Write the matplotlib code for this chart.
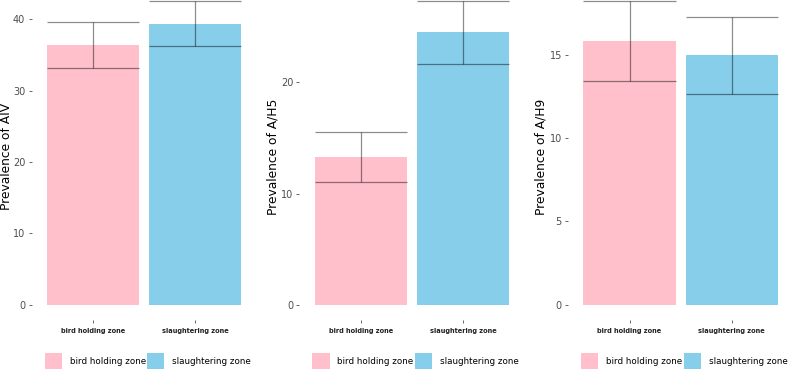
import matplotlib.pyplot as plt
from matplotlib.patches import Patch

# data
zones = ["bird holding zone", "slaughtering zone"]
labels = ["Prevalence of AIV", "Prevalence of A/H5", "Prevalence of A/H9"]
aiv = [36.4, 39.35]
aiv_err = [3.2, 3.15]
h5 = [13.3, 24.5]
h5_err = [2.25, 2.8]
h9 = [15.8, 14.95]
h9_err = [2.4, 2.33]
yticks = [[0, 10, 20, 30, 40], [0, 10, 20], [0, 5, 10, 15]]

colors = ["pink", "skyblue"]
panels = [(aiv, aiv_err), (h5, h5_err), (h9, h9_err)]
lefts = [0.040, 0.380, 0.721]
label_x = [-0.082, -0.090, -0.092]

fig = plt.figure(figsize=(7.88, 3.71), dpi=100)

for i, (vals, errs) in enumerate(panels):
    ax = fig.add_axes([lefts[i], 0.1375, 0.2855, 0.90])
    x = [1, 2]
    ax.bar(x, vals, width=0.9, color=colors)
    lo = [v - e for v, e in zip(vals, errs)]
    hi = [v + e for v, e in zip(vals, errs)]
    ax.vlines(x, lo, hi, color="black", alpha=0.45, lw=0.9)
    for xi, l, h in zip(x, lo, hi):
        ax.hlines([l, h], xi - 0.45, xi + 0.45, color="black", alpha=0.45, lw=0.9)

    top = max(hi)
    ax.set_ylim(-0.05 * top, 1.05 * top)
    ax.set_xlim(0.4, 2.6)
    ax.set_yticks(yticks[i])
    ax.set_xticks(x)
    ax.set_xticklabels(zones, fontsize=4.8, fontweight="bold", color="#222222")
    ax.tick_params(axis="y", labelsize=7, labelcolor="#4d4d4d", color="#4d4d4d",
                   length=2.5, width=0.6, pad=2)
    ax.tick_params(axis="x", color="#4d4d4d", length=2.5, width=0.6, pad=3)
    ax.set_ylabel(labels[i], fontsize=8.8)
    ax.yaxis.set_label_coords(label_x[i], 0.49)
    for s in ax.spines.values():
        s.set_visible(False)

    handles = [Patch(facecolor=c, edgecolor="none") for c in colors]
    ax.legend(handles, zones, ncol=2, loc="center", bbox_to_anchor=(0.516, -0.123),
              frameon=False, fontsize=6.3, handlelength=1.95, handleheight=2.3,
              handletextpad=0.9, columnspacing=0.15, borderaxespad=0)

fig.savefig("out.png", dpi=100, facecolor="white")
